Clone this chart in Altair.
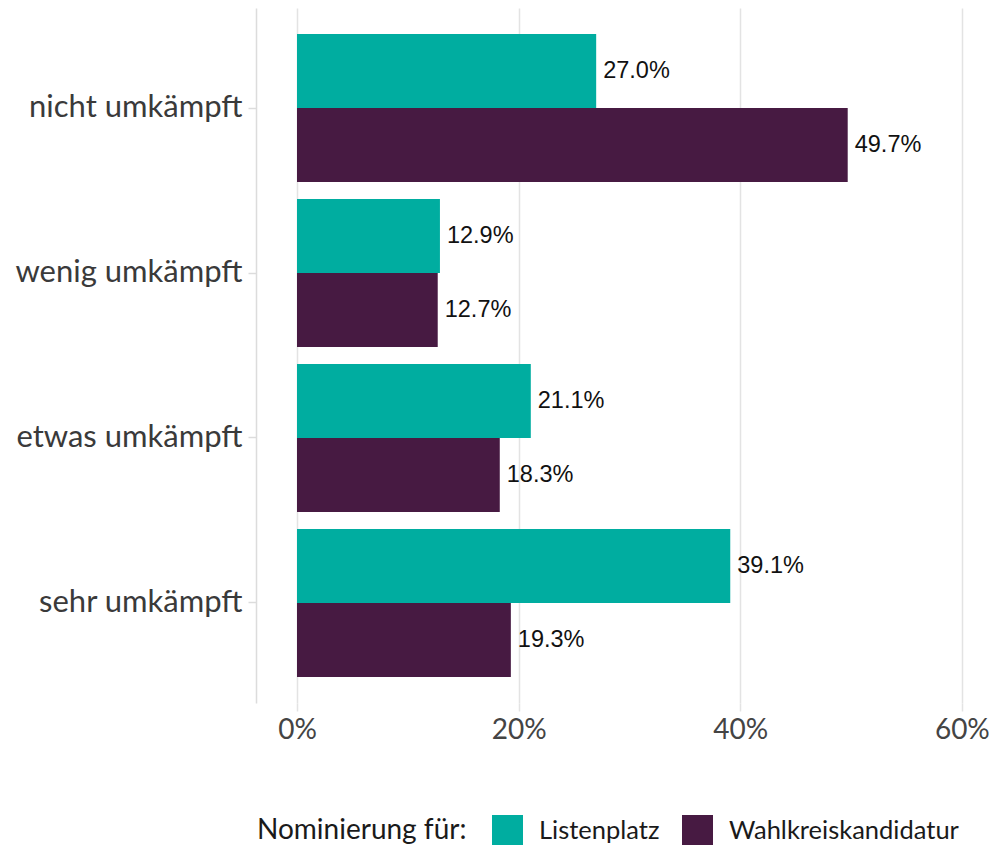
import altair as alt
import pandas as pd

categories = ["nicht umkämpft", "wenig umkämpft", "etwas umkämpft", "sehr umkämpft"]
series = ["Listenplatz", "Wahlkreiskandidatur"]
listenplatz = [27.0, 12.9, 21.1, 39.1]
wahlkreis = [49.7, 12.7, 18.3, 19.3]
colors = ["#00ADA0", "#471A42"]

rows = []
for c, a, b in zip(categories, listenplatz, wahlkreis):
    rows.append({"cat": c, "typ": series[0], "val": a, "lab": f"{a:.1f}%"})
    rows.append({"cat": c, "typ": series[1], "val": b, "lab": f"{b:.1f}%"})
df = pd.DataFrame(rows)

FONT = "Lato"

y_enc = alt.Y("cat:N", sort=categories, title=None,
              scale=alt.Scale(paddingInner=0.103, paddingOuter=0.158),
              axis=alt.Axis(domain=True, domainColor="#dcdcdc", domainWidth=1.5,
                            ticks=True, tickColor="#dcdcdc", tickSize=8, tickWidth=1.5,
                            labelFont=FONT, labelFontSize=31, labelColor="#3a3a3a",
                            labelPadding=6, labelLimit=400, grid=False))
yoff = alt.YOffset("typ:N", sort=series, scale=alt.Scale(paddingInner=0, paddingOuter=0))
x_enc = alt.X("val:Q", title=None,
              scale=alt.Scale(domain=[-3.7, 62], nice=False, zero=False),
              axis=alt.Axis(values=[0, 20, 40, 60], labelExpr="datum.value + '%'",
                            domain=False, ticks=True, tickColor="#e3e3e3", tickSize=8,
                            tickWidth=1.5, grid=True, gridColor="#e3e3e3", gridWidth=1.5,
                            labelFont=FONT, labelFontSize=28, labelColor="#444444",
                            labelPadding=5))

bars = alt.Chart(df).mark_bar().encode(
    y=y_enc, yOffset=yoff, x=x_enc,
    color=alt.Color("typ:N", sort=series,
                    scale=alt.Scale(domain=series, range=colors),
                    legend=alt.Legend(title="Nominierung für:", orient="none",
                                      direction="horizontal", titleOrient="left",
                                      legendX=1, legendY=807,
                                      titleFont=FONT, titleFontSize=28, titleFontWeight="normal",
                                      titleColor="#1a1a1a", titlePadding=25, titleLimit=400,
                                      labelFont=FONT, labelFontSize=25.5, labelColor="#1a1a1a",
                                      labelOffset=16, columnPadding=22, labelLimit=400,
                                      symbolType="square", symbolSize=961,
                                      symbolStrokeWidth=0, symbolOpacity=1)),
)

text = alt.Chart(df).mark_text(align="left", baseline="middle", dx=7,
                               font="Liberation Sans", fontSize=23.5, color="#111111").encode(
    y=alt.Y("cat:N", sort=categories), yOffset=yoff, x="val:Q", text="lab:N")

chart = alt.layer(bars, text).properties(
    width=728, height=695,
    autosize=alt.AutoSizeParams(type="none"),
    padding={"left": 248, "top": 0, "right": 5, "bottom": 142},
).configure_view(stroke=None)

chart.save("out.html", embed_options={"renderer": "svg", "actions": False})
